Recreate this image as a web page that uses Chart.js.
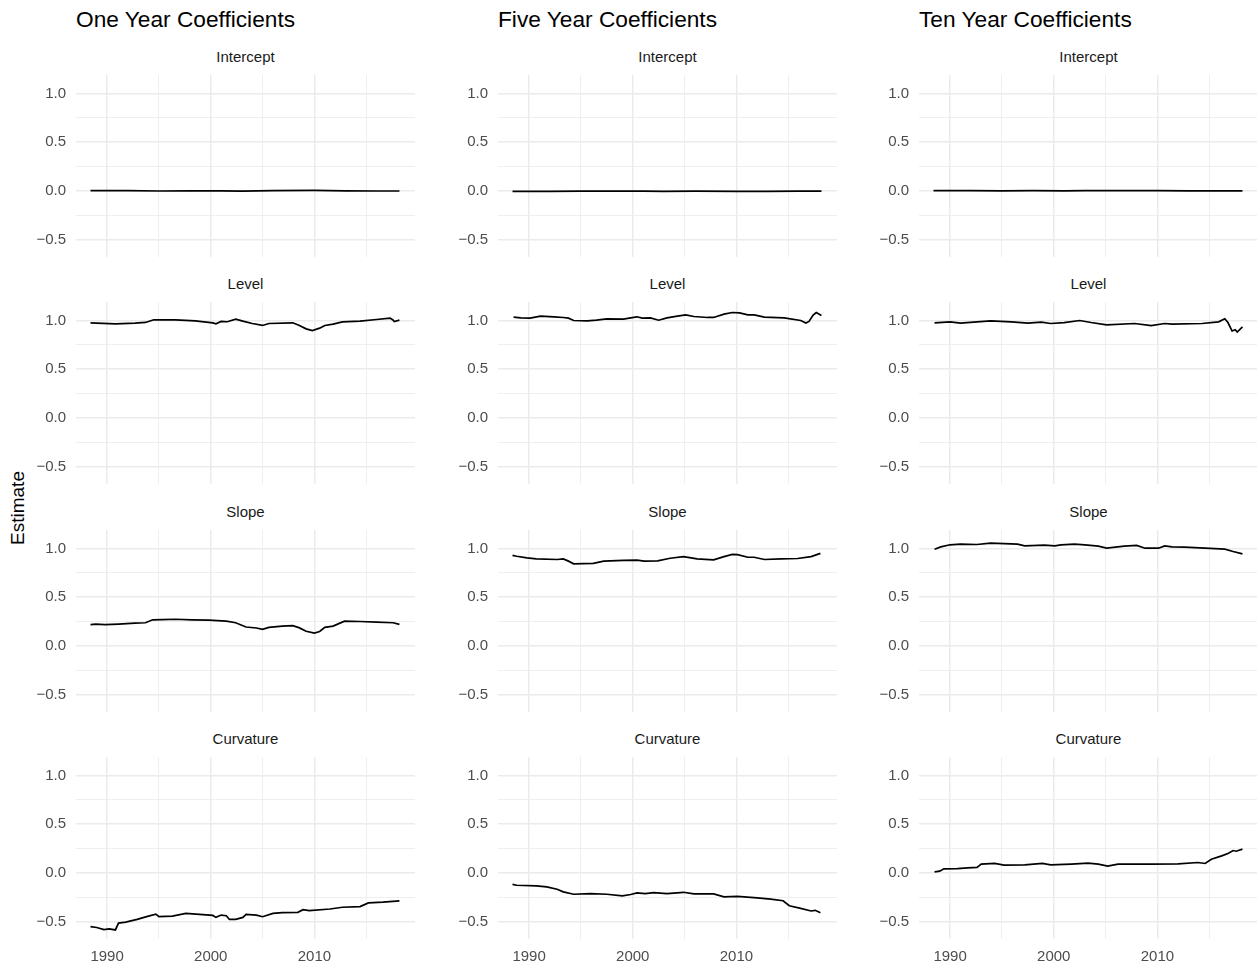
<!DOCTYPE html>
<html><head><meta charset="utf-8">
<script src="https://cdn.jsdelivr.net/npm/chart.js@4/dist/chart.umd.min.js"></script>
<style>
body{margin:0;background:#fff;width:1257px;height:967px;overflow:hidden;position:relative;font-family:"Liberation Sans",Arial,sans-serif;}
.title{position:absolute;font-size:22.7px;color:#000;top:6px;white-space:nowrap;line-height:26px;}
.strip{position:absolute;font-size:15px;color:#1a1a1a;text-align:center;line-height:18px;white-space:nowrap;}
canvas{position:absolute;}
#ylab{position:absolute;left:18px;top:508px;transform:translate(-50%,-50%) rotate(-90deg);font-size:19px;color:#000;white-space:nowrap;}
</style></head><body>
<div id="ylab">Estimate</div>
<script>
// ---------- text ----------
const columnTitles = ["One Year Coefficients", "Five Year Coefficients", "Ten Year Coefficients"];
const rowLabels = ["Intercept", "Level", "Slope", "Curvature"];
const xTickLabels = [1990, 2000, 2010];
const xGridYears = [1990, 1995, 2000, 2005, 2010, 2015];
const yTickLabels = [-0.5, 0, 0.5, 1.0];
const yGridValues = [-0.5, -0.25, 0, 0.25, 0.5, 0.75, 1.0];

// ---------- One Year ----------
const oneInterceptYears = [1988.4, 1992, 1995, 1998, 2001, 2003, 2006, 2010, 2013, 2016, 2018.2];
const oneInterceptValues = [0.002, 0.001, -0.002, -0.001, 0.0, -0.003, 0.001, 0.004, 0.0, -0.002, -0.002];

const oneLevelYears = [1988.4, 1990.8, 1992.7, 1993.7, 1994.5, 1996.6, 1998.5, 2000.2, 2000.5, 2001.0, 2001.6, 2002.4, 2003.1, 2004.0, 2005.0, 2005.6, 2007.9, 2008.5, 2009.2, 2009.8, 2010.5, 2011.0, 2011.8, 2012.7, 2014.4, 2016.0, 2017.3, 2017.6, 2017.7, 2018.2];
const oneLevelValues = [0.976, 0.966, 0.973, 0.98, 1.007, 1.007, 0.997, 0.976, 0.966, 0.99, 0.987, 1.014, 0.993, 0.969, 0.949, 0.969, 0.976, 0.952, 0.914, 0.897, 0.921, 0.949, 0.962, 0.986, 0.993, 1.01, 1.024, 1.003, 0.99, 1.003];

const oneSlopeYears = [1988.4, 1988.9, 1989.8, 1991.1, 1992.7, 1993.7, 1994.4, 1995.3, 1996.6, 1998.2, 1999.8, 2001.5, 2002.4, 2003.4, 2004.4, 2005.0, 2005.6, 2006.9, 2007.9, 2008.5, 2009.2, 2010.0, 2010.5, 2011.0, 2011.8, 2012.9, 2014.4, 2016.0, 2017.6, 2018.2];
const oneSlopeValues = [0.217, 0.223, 0.217, 0.223, 0.233, 0.237, 0.267, 0.27, 0.273, 0.267, 0.263, 0.253, 0.237, 0.193, 0.183, 0.17, 0.19, 0.203, 0.207, 0.187, 0.15, 0.13, 0.147, 0.19, 0.203, 0.253, 0.25, 0.243, 0.237, 0.22];

const oneCurvatureYears = [1988.4, 1989.0, 1989.7, 1990.2, 1990.8, 1991.1, 1991.8, 1992.9, 1993.9, 1994.7, 1995.0, 1996.3, 1997.6, 1998.9, 2000.2, 2000.5, 2001.0, 2001.5, 2001.8, 2002.4, 2003.1, 2003.4, 2004.4, 2005.0, 2006.0, 2006.9, 2008.4, 2008.9, 2009.5, 2011.5, 2012.7, 2014.4, 2015.2, 2016.6, 2018.2];
const oneCurvatureValues = [-0.552, -0.562, -0.583, -0.576, -0.587, -0.517, -0.507, -0.479, -0.448, -0.424, -0.451, -0.444, -0.417, -0.427, -0.438, -0.458, -0.434, -0.441, -0.479, -0.479, -0.458, -0.427, -0.434, -0.451, -0.417, -0.41, -0.406, -0.379, -0.389, -0.372, -0.354, -0.347, -0.309, -0.302, -0.288];

// ---------- Five Year ----------
const fiveInterceptYears = [1988.4, 1992, 1995, 1998, 2001, 2003, 2006, 2010, 2013, 2016, 2018.2];
const fiveInterceptValues = [-0.006, -0.005, -0.004, -0.003, -0.004, -0.005, -0.004, -0.006, -0.005, -0.003, -0.003];

const fiveLevelYears = [1988.5, 1989.2, 1990.1, 1991.1, 1992.4, 1993.3, 1993.8, 1994.3, 1995.6, 1996.5, 1997.5, 1999.1, 1999.8, 2000.4, 2000.9, 2001.7, 2002.5, 2003.3, 2004.3, 2005.1, 2005.9, 2007.2, 2007.8, 2008.8, 2009.6, 2010.3, 2011.1, 2011.7, 2012.7, 2014.6, 2016.2, 2016.7, 2017.0, 2017.4, 2017.7, 2018.2];
const fiveLevelValues = [1.034, 1.027, 1.024, 1.044, 1.038, 1.031, 1.024, 1.0, 0.997, 1.003, 1.017, 1.014, 1.027, 1.038, 1.024, 1.027, 1.003, 1.027, 1.044, 1.058, 1.041, 1.031, 1.031, 1.065, 1.082, 1.079, 1.058, 1.058, 1.034, 1.027, 1.0, 0.973, 0.99, 1.055, 1.082, 1.051];

const fiveSlopeYears = [1988.4, 1988.8, 1989.8, 1990.7, 1992.7, 1993.3, 1993.8, 1994.3, 1996.2, 1997.2, 1999.1, 2000.4, 2001.1, 2002.4, 2003.6, 2004.9, 2006.2, 2007.8, 2008.8, 2009.6, 2010.1, 2011.1, 2011.7, 2012.7, 2014.3, 2015.9, 2017.2, 2018.1];
const fiveSlopeValues = [0.93, 0.92, 0.903, 0.893, 0.887, 0.893, 0.87, 0.843, 0.847, 0.87, 0.877, 0.88, 0.87, 0.873, 0.9, 0.917, 0.893, 0.883, 0.917, 0.94, 0.937, 0.91, 0.91, 0.887, 0.893, 0.897, 0.917, 0.95];

const fiveCurvatureYears = [1988.4, 1988.8, 1990.7, 1991.7, 1992.7, 1993.3, 1994.3, 1995.9, 1997.5, 1999.0, 1999.8, 2000.4, 2001.2, 2002.0, 2003.3, 2004.9, 2005.9, 2007.8, 2008.8, 2010.1, 2012.0, 2013.3, 2014.5, 2015.1, 2016.2, 2017.2, 2017.6, 2018.1];
const fiveCurvatureValues = [-0.118, -0.128, -0.135, -0.145, -0.169, -0.196, -0.22, -0.213, -0.22, -0.237, -0.223, -0.206, -0.213, -0.203, -0.213, -0.2, -0.216, -0.216, -0.247, -0.243, -0.257, -0.27, -0.287, -0.338, -0.365, -0.392, -0.385, -0.41];

// ---------- Ten Year ----------
const tenInterceptYears = [1988.4, 1992, 1995, 1998, 2001, 2003, 2006, 2010, 2013, 2016, 2018.2];
const tenInterceptValues = [0.002, 0.001, 0.0, 0.001, 0.0, 0.001, 0.002, 0.001, 0.0, -0.001, -0.001];

const tenLevelYears = [1988.5, 1990.0, 1991.0, 1992.6, 1993.9, 1995.9, 1997.5, 1998.8, 1999.7, 2001.0, 2002.5, 2003.6, 2005.1, 2007.8, 2009.4, 2010.7, 2011.4, 2014.3, 2015.9, 2016.5, 2016.8, 2017.2, 2017.5, 2017.7, 2018.2];
const tenLevelValues = [0.976, 0.986, 0.972, 0.986, 0.997, 0.986, 0.972, 0.983, 0.969, 0.979, 1.0, 0.979, 0.955, 0.969, 0.948, 0.969, 0.962, 0.969, 0.986, 1.018, 0.979, 0.892, 0.905, 0.881, 0.934];

const tenSlopeYears = [1988.5, 1989.1, 1990.0, 1991.0, 1992.6, 1993.9, 1995.2, 1996.5, 1997.2, 1999.1, 2000.1, 2000.7, 2002.0, 2003.0, 2004.3, 2005.1, 2006.8, 2008.0, 2008.8, 2010.1, 2010.7, 2011.4, 2012.6, 2014.6, 2016.5, 2017.3, 2018.2];
const tenSlopeValues = [0.993, 1.017, 1.038, 1.044, 1.041, 1.055, 1.051, 1.044, 1.027, 1.034, 1.027, 1.038, 1.044, 1.038, 1.024, 1.003, 1.024, 1.031, 1.003, 1.003, 1.027, 1.017, 1.014, 1.003, 0.993, 0.969, 0.945];

const tenCurvatureYears = [1988.5, 1989.0, 1989.4, 1990.7, 1991.7, 1992.6, 1993.0, 1994.3, 1995.2, 1997.2, 1998.9, 1999.7, 2001.0, 2001.7, 2003.3, 2004.3, 2005.2, 2006.2, 2009.4, 2012.0, 2013.9, 2014.6, 2015.2, 2016.2, 2016.8, 2017.3, 2017.6, 2018.2];
const tenCurvatureValues = [0.01, 0.017, 0.041, 0.044, 0.051, 0.055, 0.089, 0.096, 0.079, 0.082, 0.096, 0.082, 0.086, 0.089, 0.099, 0.089, 0.068, 0.089, 0.089, 0.092, 0.106, 0.096, 0.14, 0.174, 0.198, 0.229, 0.222, 0.243];

// panels[row][col] = [years, values]
const panels = [
  [[oneInterceptYears, oneInterceptValues], [fiveInterceptYears, fiveInterceptValues], [tenInterceptYears, tenInterceptValues]],
  [[oneLevelYears, oneLevelValues], [fiveLevelYears, fiveLevelValues], [tenLevelYears, tenLevelValues]],
  [[oneSlopeYears, oneSlopeValues], [fiveSlopeYears, fiveSlopeValues], [tenSlopeYears, tenSlopeValues]],
  [[oneCurvatureYears, oneCurvatureValues], [fiveCurvatureYears, fiveCurvatureValues], [tenCurvatureYears, tenCurvatureValues]]
];

// ---------- layout ----------
const plotLefts = [76, 498, 919];
const plotTops = [75, 302, 530, 757];
const plotW = 339, plotH = 182, yAxisW = 50, xAxisH = 30;
const X_MIN = 1987.0, X_MAX = 2019.7, Y_MIN = -0.68, Y_MAX = 1.19;
const FONT = "'Liberation Sans', Arial, sans-serif";

function fmtY(v) {
  const s = v.toFixed(1);
  return s.startsWith('-') ? '\u2212' + s.slice(1) : s;
}

columnTitles.forEach((t, c) => {
  const d = document.createElement('div');
  d.className = 'title';
  d.style.left = plotLefts[c] + 'px';
  d.textContent = t;
  document.body.appendChild(d);
});

for (let r = 0; r < 4; r++) {
  for (let c = 0; c < 3; c++) {
    const strip = document.createElement('div');
    strip.className = 'strip';
    strip.style.left = plotLefts[c] + 'px';
    strip.style.width = plotW + 'px';
    strip.style.top = (plotTops[r] - 27) + 'px';
    strip.textContent = rowLabels[r];
    document.body.appendChild(strip);

    const bottom = r === 3;
    const cv = document.createElement('canvas');
    const w = yAxisW + plotW, h = plotH + (bottom ? xAxisH : 0);
    cv.width = w; cv.height = h;
    cv.style.width = w + 'px'; cv.style.height = h + 'px';
    cv.style.left = (plotLefts[c] - yAxisW) + 'px';
    cv.style.top = plotTops[r] + 'px';
    document.body.appendChild(cv);

    const [years, values] = panels[r][c];
    new Chart(cv, {
      type: 'line',
      data: {
        datasets: [{
          data: years.map((x, i) => ({ x: x, y: values[i] })),
          borderColor: '#000000',
          borderWidth: 1.7,
          pointRadius: 0,
          tension: 0,
          fill: false
        }]
      },
      options: {
        responsive: false,
        animation: false,
        events: [],
        layout: { padding: 0 },
        plugins: { legend: { display: false }, tooltip: { enabled: false } },
        scales: {
          x: {
            type: 'linear', min: X_MIN, max: X_MAX,
            afterBuildTicks: s => { s.ticks = xGridYears.map(v => ({ value: v })); },
            afterFit: s => { s.paddingLeft = 0; s.paddingRight = 0; s.height = bottom ? xAxisH : 0; },
            grid: {
              color: '#ebebeb',
              lineWidth: ctx => (ctx.tick && xTickLabels.includes(ctx.tick.value)) ? 1.5 : 0.8,
              drawTicks: false
            },
            border: { display: false },
            ticks: {
              display: bottom, padding: 9, color: '#4d4d4d', autoSkip: false, maxRotation: 0,
              font: { size: 15, family: FONT },
              callback: v => xTickLabels.includes(v) ? String(v) : ''
            }
          },
          y: {
            type: 'linear', min: Y_MIN, max: Y_MAX,
            afterBuildTicks: s => { s.ticks = yGridValues.map(v => ({ value: v })); },
            afterFit: s => { s.width = yAxisW; s.paddingTop = 0; s.paddingBottom = 0; },
            grid: {
              color: '#ebebeb',
              lineWidth: ctx => (ctx.tick && yTickLabels.includes(ctx.tick.value)) ? 1.5 : 0.8,
              drawTicks: false
            },
            border: { display: false },
            ticks: {
              padding: 10, color: '#4d4d4d', autoSkip: false,
              font: { size: 15, family: FONT },
              callback: v => yTickLabels.includes(v) ? fmtY(v) : ''
            }
          }
        }
      }
    });
  }
}
</script>
</body></html>
